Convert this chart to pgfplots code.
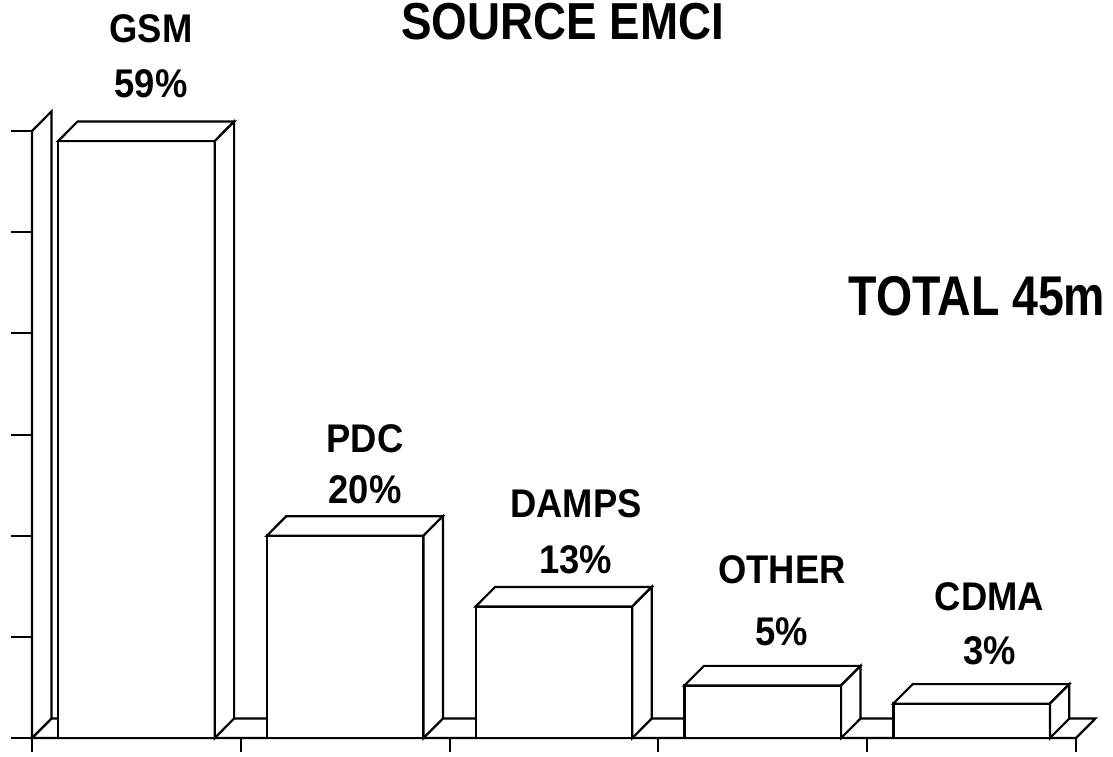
\documentclass[border=0pt]{standalone}
\usepackage{pgfplots}
\pgfplotsset{compat=1.18}
\usepackage{pgfplotstable}
\usepackage{fontspec}
\setmainfont{Liberation Sans}[FakeStretch=0.91]
\newfontfamily\bigfont{Liberation Sans}[FakeStretch=0.88]
\newfontfamily\totfont{Liberation Sans}[FakeStretch=0.83]

\pgfplotstableread{
x v
0 59
1 20
2 13
3 5.2
4 3.4
}\shares

\pgfplotsset{face/.style={draw=black, fill=white, line width=2.2pt, line join=miter, mark=none}}

\newcommand{\lbl}[5]{%
  \node[anchor=base, inner sep=0pt, font=\bfseries\fontsize{40}{40}\selectfont] at (axis cs:#1,#2) {#4};
  \node[anchor=base, inner sep=0pt, font=\bfseries\fontsize{40}{40}\selectfont] at (axis cs:#1,#3) {#5};
}

\begin{document}
\begin{tikzpicture}
\begin{axis}[
  x=208.8pt, y=10.117pt,
  xmin=-0.5, xmax=4.5, ymin=0, ymax=60,
  axis x line=bottom, axis y line=left,
  axis line style={-, line width=2.4pt, black},
  xtick={-0.5,0.5,1.5,2.5,3.5,4.5},
  ytick={0,10,20,30,40,50,60},
  xticklabels={}, yticklabels={},
  tick align=outside,
  xtick style={line width=2pt, black, /pgfplots/major tick length=14pt},
  ytick style={line width=2pt, black, /pgfplots/major tick length=21pt},
  clip=false,
]
% floor
\addplot[face] coordinates {(-0.5,0) (4.5,0) (4.593,1.93) (-0.407,1.93)} -- cycle;
% left wall
\addplot[face] coordinates {(-0.5,0) (-0.5,60) (-0.407,61.93) (-0.407,1.93)} -- cycle;
% bar fronts
\addplot[face, ybar, bar width=0.75, bar shift=0, line width=2.4pt] table[x=x, y=v] {\shares};
% top faces
\addplot[face] coordinates {(-0.375,59) (-0.282,60.93) (0.468,60.93) (0.375,59)} -- cycle;
\addplot[face] coordinates {(0.625,20) (0.718,21.93) (1.468,21.93) (1.375,20)} -- cycle;
\addplot[face] coordinates {(1.625,13) (1.718,14.93) (2.468,14.93) (2.375,13)} -- cycle;
\addplot[face] coordinates {(2.625,5.2) (2.718,7.13) (3.468,7.13) (3.375,5.2)} -- cycle;
\addplot[face] coordinates {(3.625,3.4) (3.718,5.33) (4.468,5.33) (4.375,3.4)} -- cycle;
% side faces
\addplot[face] coordinates {(0.375,0) (0.375,59) (0.468,60.93) (0.468,1.93)} -- cycle;
\addplot[face] coordinates {(1.375,0) (1.375,20) (1.468,21.93) (1.468,1.93)} -- cycle;
\addplot[face] coordinates {(2.375,0) (2.375,13) (2.468,14.93) (2.468,1.93)} -- cycle;
\addplot[face] coordinates {(3.375,0) (3.375,5.2) (3.468,7.13) (3.468,1.93)} -- cycle;
\addplot[face] coordinates {(4.375,0) (4.375,3.4) (4.468,5.33) (4.468,1.93)} -- cycle;

\lbl{0.07}{68.70}{63.36}{GSM}{59\%}
\lbl{1.095}{28.27}{23.23}{PDC}{20\%}
\lbl{2.105}{21.75}{16.31}{DAMPS}{13\%}
\lbl{3.092}{15.32}{9.19}{OTHER}{5\%}
\lbl{4.085}{12.65}{7.22}{CDMA}{3\%}

\node[anchor=base, inner sep=0pt, font=\bigfont\bfseries\fontsize{52}{52}\selectfont] at (axis cs:2.041,69.09) {SOURCE EMCI};
\node[anchor=base, inner sep=0pt, font=\totfont\bfseries\fontsize{56}{56}\selectfont] at (axis cs:4.026,41.81) {TOTAL 45m};

\coordinate (BL) at (axis cs:-0.6533,-1.779);
\coordinate (TR) at (axis cs:4.6772,72.95);
\end{axis}
\pgfresetboundingbox
\useasboundingbox (BL) rectangle (TR);
\end{tikzpicture}
\end{document}
